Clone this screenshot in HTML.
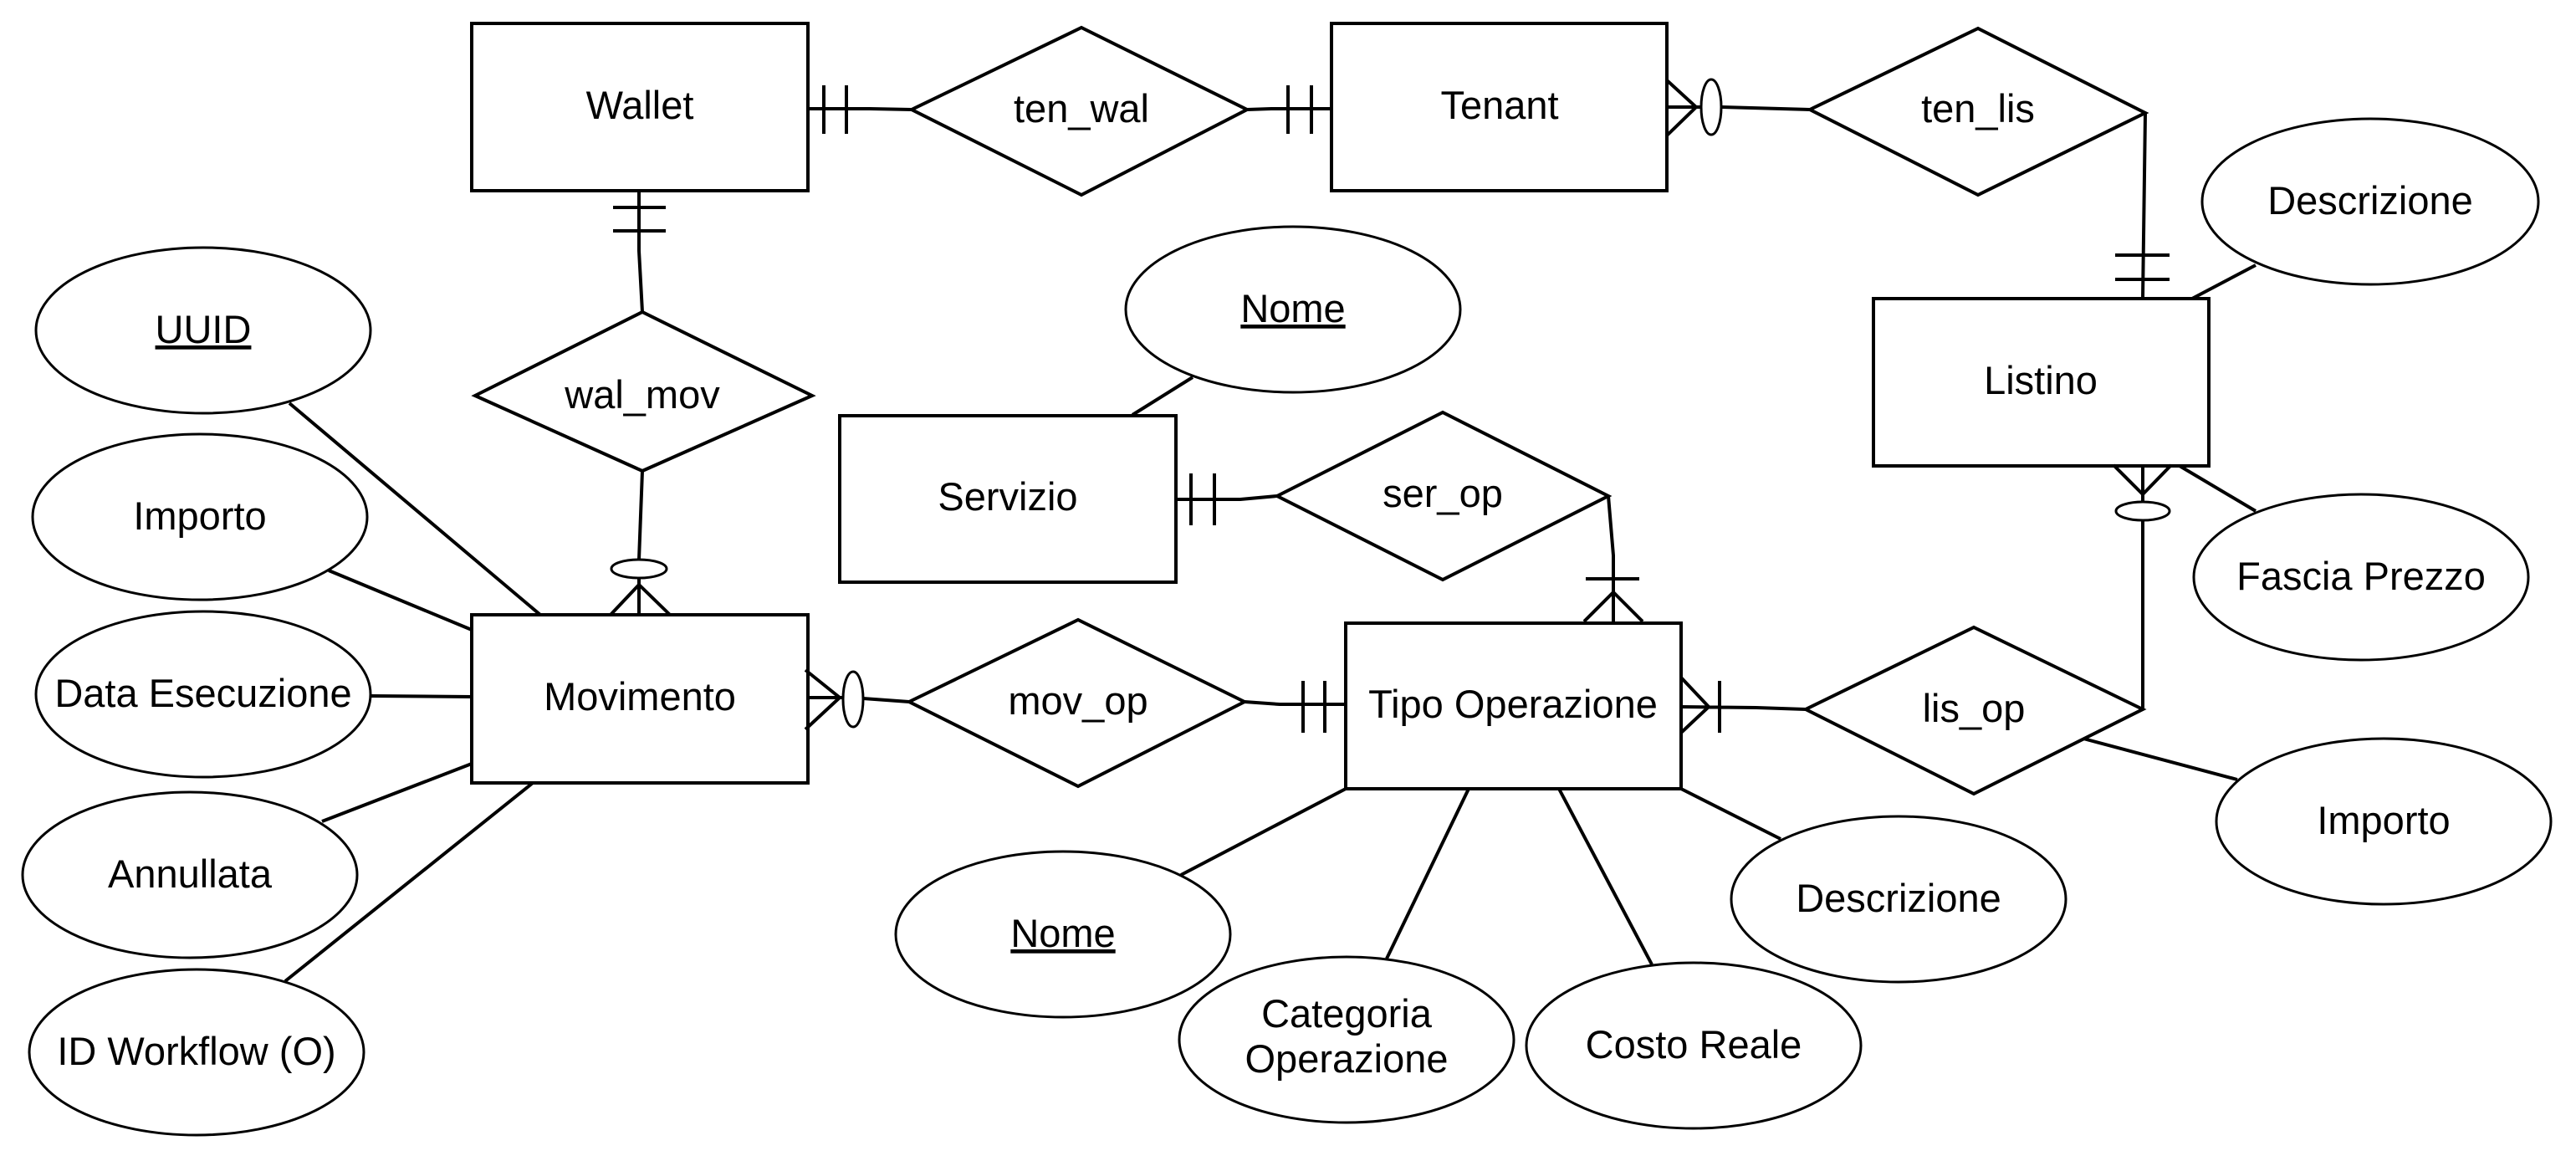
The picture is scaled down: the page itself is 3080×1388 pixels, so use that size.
<!DOCTYPE html>
<html><head><style>html,body{margin:0;padding:0;background:#fff}svg{display:block}text{font-family:"Liberation Sans",Arial,sans-serif;font-size:47px;fill:#000}</style></head>
<body>
<svg width="3080" height="1388" viewBox="0 0 3080 1388" xmlns="http://www.w3.org/2000/svg">
<g fill="#fff" stroke="#000" stroke-width="4">
<rect x="564" y="28" width="402" height="200"/>
<rect x="1592" y="28" width="401" height="200"/>
<rect x="564" y="735" width="402" height="201"/>
<rect x="1004" y="497" width="402" height="199"/>
<rect x="1609" y="745" width="401" height="198"/>
<rect x="2240" y="357" width="401" height="200"/>
<polygon points="1090,131 1293,33 1491,131 1293,233"/>
<polygon points="2164,131 2365,34 2565,135 2365,233"/>
<polygon points="568,473 768,373 971,473 768,563"/>
<polygon points="1527,593 1725,493 1923,593 1725,693"/>
<polygon points="1087,839 1289,741 1488,839 1289,940"/>
<polygon points="2159,848 2360,750 2562,848 2360,949"/>
</g>
<g fill="#fff" stroke="#000" stroke-width="3">
<ellipse cx="243" cy="395" rx="200" ry="99"/>
<ellipse cx="239" cy="618" rx="200" ry="99"/>
<ellipse cx="243" cy="830" rx="200" ry="99"/>
<ellipse cx="227" cy="1046" rx="200" ry="99"/>
<ellipse cx="235" cy="1258" rx="200" ry="99"/>
<ellipse cx="1546" cy="370" rx="200" ry="99"/>
<ellipse cx="1271" cy="1117" rx="200" ry="99"/>
<ellipse cx="1610" cy="1243" rx="200" ry="99"/>
<ellipse cx="2025" cy="1250" rx="200" ry="99"/>
<ellipse cx="2270" cy="1075" rx="200" ry="99"/>
<ellipse cx="2834" cy="241" rx="201" ry="99"/>
<ellipse cx="2823" cy="690" rx="200" ry="99"/>
<ellipse cx="2850" cy="982" rx="200" ry="99"/>
</g>
<g fill="none" stroke="#000" stroke-width="4">
<path d="M346,482L646,735M393,682L564,753M444,832L564,833M385,982L564,913M341,1173L637,936"/>
<path d="M1426,451L1354,496"/>
<path d="M1412,1046L1609,943M1658,1146L1756,943M1975,1153L1864,943M2129,1003L2010,943"/>
<path d="M2697,317L2621,357M2606,557L2697,611M2491,883L2675,932"/>
<path d="M966,130L1040,130L1090,131M985,102V160M1012,102V160"/>
<path d="M1491,131L1520,130L1592,130M1540,102V160M1568,102V160"/>
<path d="M1993,96L2028,128L1993,162M1993,128H2034M2059,128L2164,131"/>
<path d="M2565,135L2562,357M2529,305H2594M2529,334H2594"/>
<path d="M764,228L764,300L768,373M733,248H796M733,276H796"/>
<path d="M768,563L764,669M764,691V735M764,699L730,735M764,699L801,735"/>
<path d="M963,801L1004,834L963,872M966,834H1008M1032,835L1087,839"/>
<path d="M1488,839L1530,842L1609,842M1558,814V876M1584,814V876"/>
<path d="M1406,597L1483,597L1527,593M1424,566V628M1452,566V628"/>
<path d="M1923,593L1929,664L1929,743M1896,692H1960M1929,708L1894,743M1929,708L1964,743"/>
<path d="M2010,810L2043,845L2010,876M2010,845L2100,846L2159,848M2056,814V876"/>
<path d="M2562,848L2562,622M2562,600V557M2562,591L2527,556M2562,591L2596,556"/>
</g>
<g fill="#fff" stroke="#000" stroke-width="3">
<ellipse cx="764" cy="680" rx="33" ry="11"/>
<ellipse cx="1020" cy="836" rx="12" ry="33"/>
<ellipse cx="2046" cy="128" rx="12" ry="33"/>
<ellipse cx="2562" cy="611" rx="32" ry="11"/>
</g>
<g text-anchor="middle">
<text x="765" y="142">Wallet</text>
<text x="1793" y="142">Tenant</text>
<text x="1293" y="146">ten_wal</text>
<text x="2365" y="146">ten_lis</text>
<text x="768" y="488">wal_mov</text>
<text x="765" y="849">Movimento</text>
<text x="1205" y="610">Servizio</text>
<text x="1725" y="606">ser_op</text>
<text x="1289" y="854">mov_op</text>
<text x="1809" y="858">Tipo Operazione</text>
<text x="2360" y="863">lis_op</text>
<text x="2440" y="471">Listino</text>
<text x="243" y="410" text-decoration="underline">UUID</text>
<text x="239" y="633">Importo</text>
<text x="243" y="845">Data Esecuzione</text>
<text x="227" y="1061">Annullata</text>
<text x="235" y="1273">ID Workflow (O)</text>
<text x="1546" y="385" text-decoration="underline">Nome</text>
<text x="1271" y="1132" text-decoration="underline">Nome</text>
<text x="1610" y="1228">Categoria</text>
<text x="1610" y="1282">Operazione</text>
<text x="2025" y="1265">Costo Reale</text>
<text x="2270" y="1090">Descrizione</text>
<text x="2834" y="256">Descrizione</text>
<text x="2823" y="705">Fascia Prezzo</text>
<text x="2850" y="997">Importo</text>
</g>
</svg>
</body></html>
